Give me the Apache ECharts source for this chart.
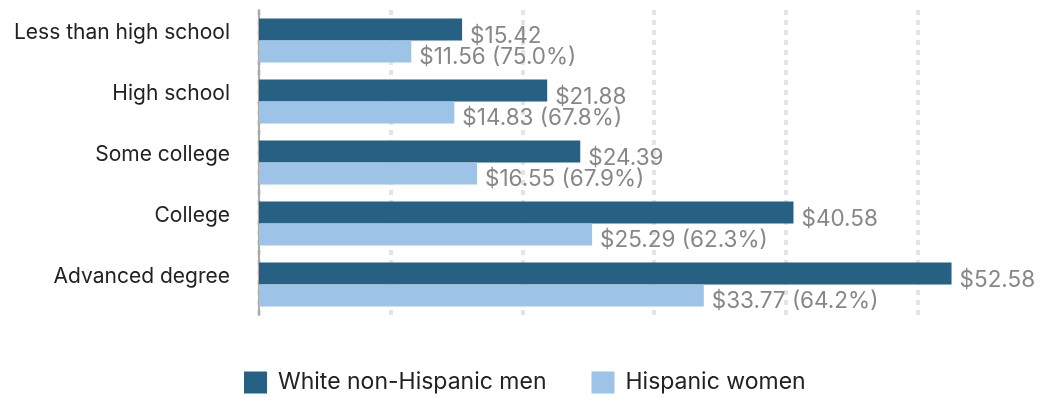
<!DOCTYPE html>
<html><head><meta charset="utf-8">
<script src="https://cdn.jsdelivr.net/npm/echarts@6/dist/echarts.min.js"></script>
<style>html,body{margin:0;padding:0;background:#fff}#c{width:1044px;height:397px}</style>
</head><body><div id="c"></div>
<script>
const categories = ['Less than high school','High school','Some college','College','Advanced degree'];
const whiteMen = [15.42, 21.88, 24.39, 40.58, 52.58];
const hispanicWomen = [11.56, 14.83, 16.55, 25.29, 33.77];
const seriesNames = ['White non-Hispanic men','Hispanic women'];
const FONT = 'Inter';
const chart = echarts.init(document.getElementById('c'), null, {renderer:'canvas'});
chart.setOption({
  animation:false,
  textStyle:{fontFamily:FONT},
  grid:{left:259, top:10, right:0, height:305, containLabel:false},
  xAxis:{type:'value', min:0, max:59.6, interval:10,
    axisLabel:{show:false}, axisLine:{show:false}, axisTick:{show:false},
    splitLine:{show:true, showMaxLine:false, lineStyle:{color:'#e4e4e4', width:4, type:[5,5]}}},
  yAxis:{type:'category', data:categories, inverse:true,
    axisLine:{show:true, lineStyle:{color:'#aaaaaa', width:2}},
    axisTick:{show:false},
    axisLabel:{fontFamily:FONT, fontSize:21, color:'#222', margin:29, verticalAlign:'bottom', lineHeight:15}},
  legend:{data:seriesNames, top:366, left:239, itemWidth:23, itemHeight:22, itemGap:45,
    icon:'rect', textStyle:{fontFamily:FONT, fontSize:23, color:'#222', padding:[0,0,0,6]}},
  series:[
    {name:seriesNames[0], type:'bar', data:whiteMen, barWidth:22, barGap:'0%',
     itemStyle:{color:'#266183'},
     label:{show:true, position:'right', distance:8, offset:[0,7], fontFamily:FONT, fontSize:22.5, color:'#878787',
       formatter:p=>'$'+p.value.toFixed(2)}},
    {name:seriesNames[1], type:'bar', data:hispanicWomen, barWidth:22,
     itemStyle:{color:'#9dc3e6'},
     label:{show:true, position:'right', distance:8, offset:[0,5.5], fontFamily:FONT, fontSize:22.5, color:'#878787',
       formatter:p=>'$'+p.value.toFixed(2)+' ('+(p.value/whiteMen[p.dataIndex]*100).toFixed(1)+'%)'}}
  ]
});
</script></body></html>
